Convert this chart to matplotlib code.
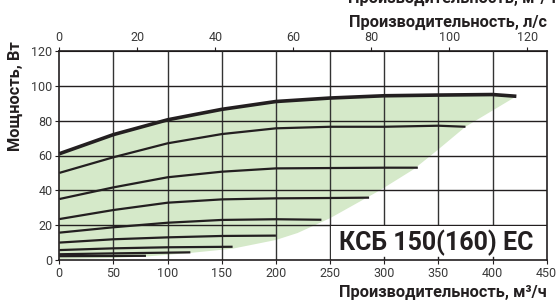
import numpy as np
import matplotlib.pyplot as plt

# fan curves: airflow (m3/h) -> power (W), one per speed step
flow_0 = [0, 50, 100, 150, 200, 250, 300, 350, 400, 422]
power_0 = [61, 72, 80.5, 86.5, 91, 93, 94.3, 94.7, 95, 94]

flow_1 = [0, 50, 100, 150, 200, 250, 300, 350, 375]
power_1 = [50, 59, 67, 72.3, 75.6, 76.5, 76.5, 77.1, 76.5]

flow_2 = [0, 50, 100, 150, 200, 250, 300, 331]
power_2 = [35, 41.7, 47.5, 50.7, 52.6, 52.8, 53, 53]

flow_3 = [0, 50, 100, 150, 200, 250, 286]
power_3 = [23.5, 28.7, 32.9, 34.8, 35.4, 35.6, 35.8]

flow_4 = [0, 50, 100, 150, 200, 242]
power_4 = [15.7, 18.8, 21.4, 23, 23.4, 23.1]

flow_5 = [0, 50, 100, 150, 200]
power_5 = [10, 11.9, 13, 13.8, 14]

flow_6 = [0, 50, 100, 160]
power_6 = [5.7, 6.7, 7.3, 7.6]

flow_7 = [0, 50, 121]
power_7 = [3.3, 3.8, 4.4]

flow_8 = [0, 40, 80]
power_8 = [2.2, 2.3, 2.4]

# lower edge of the green working area
edge_flow = [0, 50, 80, 120, 160, 200, 220, 250, 296, 327, 349, 375, 422]
edge_power = [0.5, 1.2, 2, 4, 6.5, 11.5, 15.5, 24, 40, 52, 63, 76.5, 94]

x_ticks = [0, 50, 100, 150, 200, 250, 300, 350, 400, 450]
y_ticks = [0, 20, 40, 60, 80, 100, 120]
ls_ticks = [0, 20, 40, 60, 80, 100, 120]

curves = [(flow_0, power_0), (flow_1, power_1), (flow_2, power_2),
          (flow_3, power_3), (flow_4, power_4), (flow_5, power_5),
          (flow_6, power_6), (flow_7, power_7), (flow_8, power_8)]

ink = '#231f20'
plt.rcParams['font.family'] = ['Roboto', 'DejaVu Sans']

fig = plt.figure(figsize=(5.6, 3.0), dpi=100)
ax = fig.add_axes([59.3 / 560, 40 / 300, 487.4 / 560, 209 / 300])
ax.set_xlim(0, 450)
ax.set_ylim(0, 120)

# green area
poly_x = list(flow_0) + edge_flow[::-1]
poly_y = list(power_0) + edge_power[::-1]
ax.fill(poly_x, poly_y, color='#d5e9c9', lw=0, zorder=1)

# grid
for v in x_ticks[1:-1]:
    ax.axvline(v, color='#333333', lw=1.0, zorder=2)
for w in y_ticks[1:-1]:
    ax.axhline(w, color=ink, lw=1.0, zorder=2)

# curves
for i, (fx, py) in enumerate(curves):
    ax.plot(fx, py, color=ink, lw=2.6 if i == 0 else 1.6,
            solid_capstyle='butt', zorder=4)

# model label box
ax.fill([250.6, 450, 450, 250.6], [0.4, 0.4, 19.5, 19.5], color='white',
        lw=0, zorder=3)
for v in [300, 350, 400]:
    ax.plot([v, v], [0, 1.5], color=ink, lw=1.0, zorder=3)
ax.text(348, 9.8, 'КСБ 150(160) EC', fontsize=18, fontweight='bold',
        color=ink, ha='center', va='center', zorder=5)

ax.set_xticks(x_ticks)
ax.set_yticks(y_ticks)
ax.tick_params(labelsize=9, colors=ink, length=3, width=0.8, pad=2)
ax.tick_params(axis='x', labelcolor='#3a3a3a')
ax.tick_params(axis='y', labelcolor='#3a3a3a')
for s in ax.spines.values():
    s.set_color(ink)
    s.set_linewidth(1.2)
    s.set_zorder(6)

top = ax.secondary_xaxis('top', functions=(lambda v: v / 3.6, lambda q: q * 3.6))
top.set_xticks(ls_ticks)
top.tick_params(labelsize=9, labelcolor='#3a3a3a', colors=ink,
                length=3, width=0.8, pad=2)

fig.text(547 / 560, 1 - 292 / 300, 'Производительность, м³/ч', ha='right',
         va='center', fontsize=11.8, fontweight='bold', color=ink)
fig.text(547 / 560, 1 - 27 / 300, 'Производительность, л/с', ha='right',
         va='baseline', fontsize=11.8, fontweight='bold', color=ink)
fig.text(556 / 560, 1 - 2.5 / 300, 'Производительность, м³/ч', ha='right',
         va='baseline', fontsize=11.8, fontweight='bold', color=ink)
fig.text(15 / 560, 1 - 96 / 300, 'Мощность, Вт', ha='center', va='center',
         rotation=90, fontsize=11.8, fontweight='bold', color=ink)

plt.savefig('out.png', dpi=100)
